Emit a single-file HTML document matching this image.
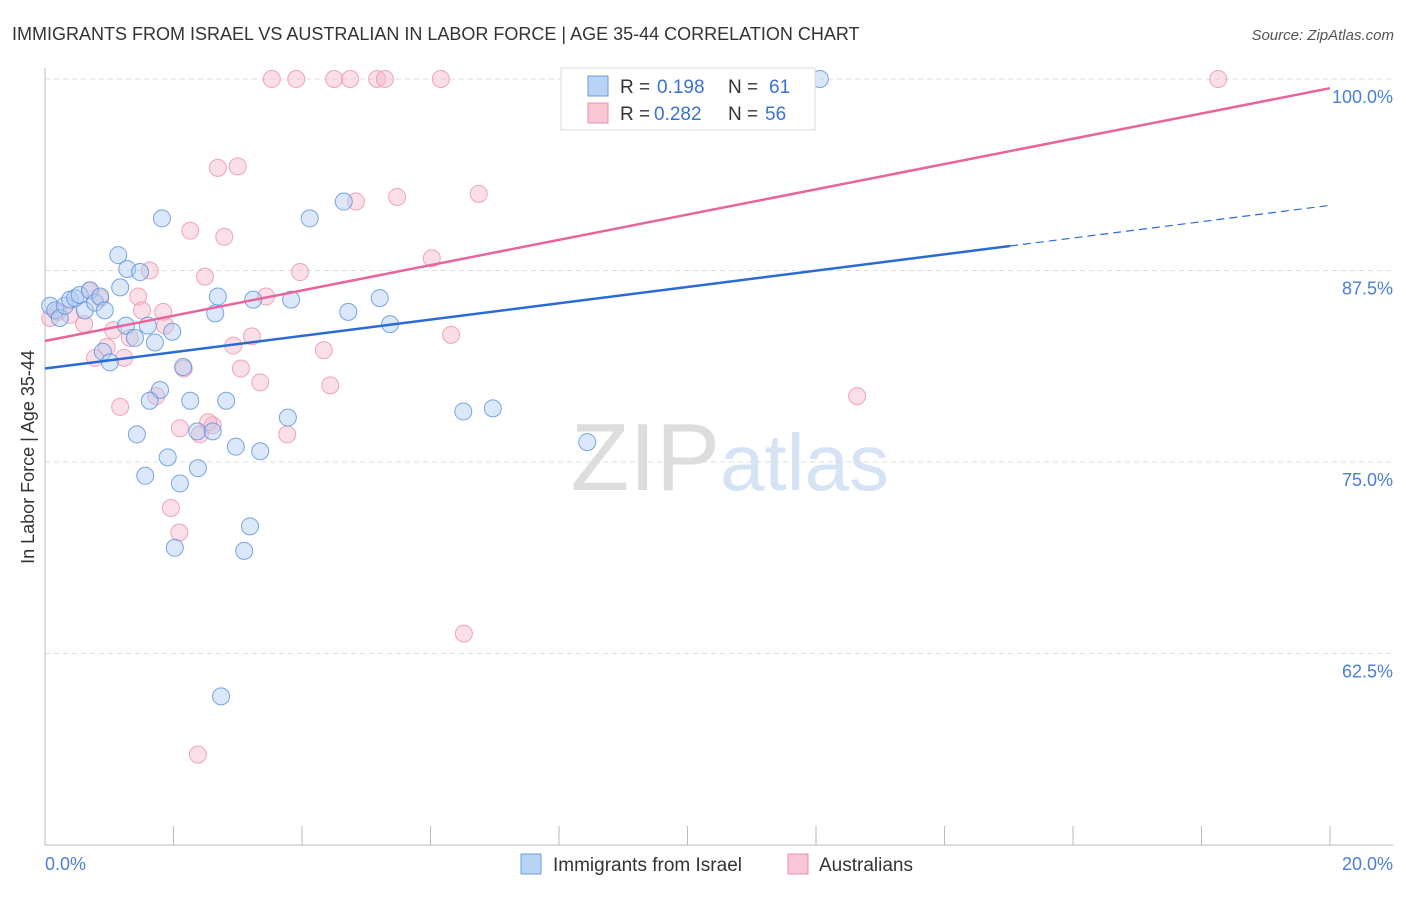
<!DOCTYPE html>
<html><head><meta charset="utf-8"><style>
body{margin:0;background:#fff;font-family:"Liberation Sans",sans-serif}
svg text{font-family:"Liberation Sans",sans-serif}
</style></head><body>
<svg id="c" width="1406" height="892">
<text x="12" y="40" font-size="18" fill="#333">IMMIGRANTS FROM ISRAEL VS AUSTRALIAN IN LABOR FORCE | AGE 35-44 CORRELATION CHART</text>
<text x="1394" y="40" font-size="15" fill="#555" text-anchor="end" font-style="italic">Source: ZipAtlas.com</text>
<text x="720" y="490" font-size="96" fill="#ddd" text-anchor="end" font-family="Liberation Serif">ZIP</text>
<text x="720" y="490" font-size="80" fill="#d5e3f5">atlas</text>
<g id="grid"></g><g id="pts"></g><g id="lines"></g>
<text transform="translate(34,457) rotate(-90)" font-size="18" fill="#333" text-anchor="middle">In Labor Force | Age 35-44</text>
<text x="45" y="870" font-size="18" fill="#4a7fd4">0.0%</text>
<text x="1393" y="870" font-size="18" fill="#4a7fd4" text-anchor="end">20.0%</text>
<g>
<rect x="561" y="68" width="254" height="62" fill="#fff" stroke="#ddd"/>
<rect x="588" y="76" width="20" height="20" fill="#b9d3f5" stroke="#6a9de0"/>
<rect x="588" y="103" width="20" height="20" fill="#f9c6d5" stroke="#ec90ad"/>
<text x="620" y="93" font-size="19" fill="#333">R =</text>
<text x="657" y="93" font-size="19" fill="#3a72d0">0.198</text>
<text x="728" y="93" font-size="19" fill="#333">N =</text>
<text x="769" y="93" font-size="19" fill="#3a72d0">61</text>
<text x="620" y="120" font-size="19" fill="#333">R =</text>
<text x="654" y="120" font-size="19" fill="#3a72d0">0.282</text>
<text x="728" y="120" font-size="19" fill="#333">N =</text>
<text x="765" y="120" font-size="19" fill="#3a72d0">56</text>
</g>
<g>
<rect x="521" y="854" width="20" height="20" fill="#b9d3f5" stroke="#6a9de0"/>
<text x="553" y="871" font-size="19" fill="#333">Immigrants from Israel</text>
<rect x="788" y="854" width="20" height="20" fill="#f9c6d5" stroke="#ec90ad"/>
<text x="819" y="871" font-size="19" fill="#333">Australians</text>
</g>
</svg>
<script>
const yTicks=[100,87.5,75,62.5];
const yTickLabels=["100.0%","87.5%","75.0%","62.5%"];
const blueX=[0.08,0.16,0.23,0.31,0.39,0.47,0.54,0.62,0.70,0.78,0.86,0.93,0.90,1.01,1.14,1.17,1.28,1.26,1.40,1.48,1.60,1.71,1.79,1.63,1.43,1.56,1.82,1.98,2.15,2.26,2.37,1.91,2.10,2.38,2.02,2.61,2.65,2.69,2.82,2.97,3.10,3.19,3.24,3.35,2.74,3.78,3.83,4.12,4.65,4.72,5.21,5.37,6.51,6.97,8.44,11.83,12.06];
const blueY=[85.2,84.9,84.4,85.2,85.6,85.7,85.9,84.9,86.2,85.4,85.8,84.9,82.2,81.5,88.5,86.4,87.6,83.9,83.1,87.4,83.9,82.8,79.7,79.0,76.8,74.1,90.9,83.5,81.2,79.0,77.0,75.3,73.6,74.6,69.4,77.0,84.7,85.8,79.0,76.0,69.2,70.8,85.6,75.7,59.7,77.9,85.6,90.9,92.0,84.8,85.7,84.0,78.3,78.5,76.3,100,100];
const pinkX=[0.08,0.20,0.39,0.61,0.70,0.78,0.86,0.96,1.06,1.17,1.23,1.32,1.45,1.51,1.63,1.73,1.84,1.87,1.96,2.09,2.16,2.26,2.38,2.49,2.61,2.41,2.69,2.79,2.93,3.00,3.05,3.22,3.35,3.44,3.53,3.77,3.91,3.97,4.34,4.44,4.50,4.75,4.84,5.17,5.29,5.48,6.02,6.16,6.32,6.52,6.75,12.64,18.26,2.54,2.10];
const pinkY=[84.4,84.8,84.6,84.0,86.2,81.8,85.7,82.5,83.6,78.6,81.8,83.1,85.8,84.9,87.5,79.3,84.8,83.9,72.0,70.4,81.1,90.1,55.9,87.1,77.4,76.8,94.2,89.7,82.6,94.3,81.1,83.2,80.2,85.8,100,76.8,100,87.4,82.3,80.0,100,100,92.0,100,100,92.3,88.3,100,83.3,63.8,92.5,79.3,100,77.6,77.2];
const X=v=>45+v*64.25, Y=v=>79+(100-v)*15.32;
const NS="http://www.w3.org/2000/svg";
const g=document.getElementById('grid');
yTicks.forEach((t,i)=>{
 const l=document.createElementNS(NS,'line');
 
 
 l.setAttribute('x1',45);l.setAttribute('x2',1393);l.setAttribute('y1',Y(t));l.setAttribute('y2',Y(t));
 l.setAttribute('stroke','#ddd');l.setAttribute('stroke-dasharray','5,4');g.appendChild(l);
 const tx=document.createElementNS(NS,'text');
 
 
 tx.setAttribute('x',1393);tx.setAttribute('y',Y(t)+24);tx.setAttribute('text-anchor','end');
 tx.setAttribute('font-size','18');tx.setAttribute('fill','#4a7fd4');tx.textContent=yTickLabels[i];g.appendChild(tx);
});
const ax=document.createElementNS(NS,'path');


ax.setAttribute('d','M45,68V845H1393');ax.setAttribute('stroke','#bbb');ax.setAttribute('fill','none');g.appendChild(ax);
for(let i=1;i<=10;i++){const t=document.createElementNS(NS,'line');
 
 
 t.setAttribute('x1',X(i*2));t.setAttribute('x2',X(i*2));t.setAttribute('y1',826);t.setAttribute('y2',845);t.setAttribute('stroke','#bbb');g.appendChild(t);}
const p=document.getElementById('pts');
function dots(xs,ys,fill,stroke,name){xs.forEach((x,i)=>{const c=document.createElementNS(NS,'circle');
 
 
 c.setAttribute('cx',X(x));c.setAttribute('cy',Y(ys[i]));c.setAttribute('r',8.5);
 c.setAttribute('fill',fill);c.setAttribute('fill-opacity','0.45');c.setAttribute('stroke',stroke);c.setAttribute('stroke-opacity','0.8');c.setAttribute('stroke-width','1');p.appendChild(c);});}
dots(pinkX,pinkY,'#f6b8cb','#ec90ad','australian-point');
dots(blueX,blueY,'#b0cdf2','#5a90dc','israel-point');
const L=document.getElementById('lines');
function ln(x1,y1,x2,y2,col,dash,name){const l=document.createElementNS(NS,'line');
 
 
 l.setAttribute('x1',X(x1));l.setAttribute('y1',Y(y1));l.setAttribute('x2',X(x2));l.setAttribute('y2',Y(y2));
 l.setAttribute('stroke',col);l.setAttribute('stroke-width',dash?1.2:2.5);if(dash)l.setAttribute('stroke-dasharray','8,5');L.appendChild(l);}
const bI=81.1,bS=(89.1-81.1)/15.02;
ln(0,bI,15.02,89.1,'#2a6ad6',false,'israel-trend-line');
ln(15.02,89.1,20,bI+bS*20,'#2a6ad6',true,'israel-trend-extension');
ln(0,82.9,20,99.4,'#e8649a',false,'australian-trend-line');
</script>
</body></html>
